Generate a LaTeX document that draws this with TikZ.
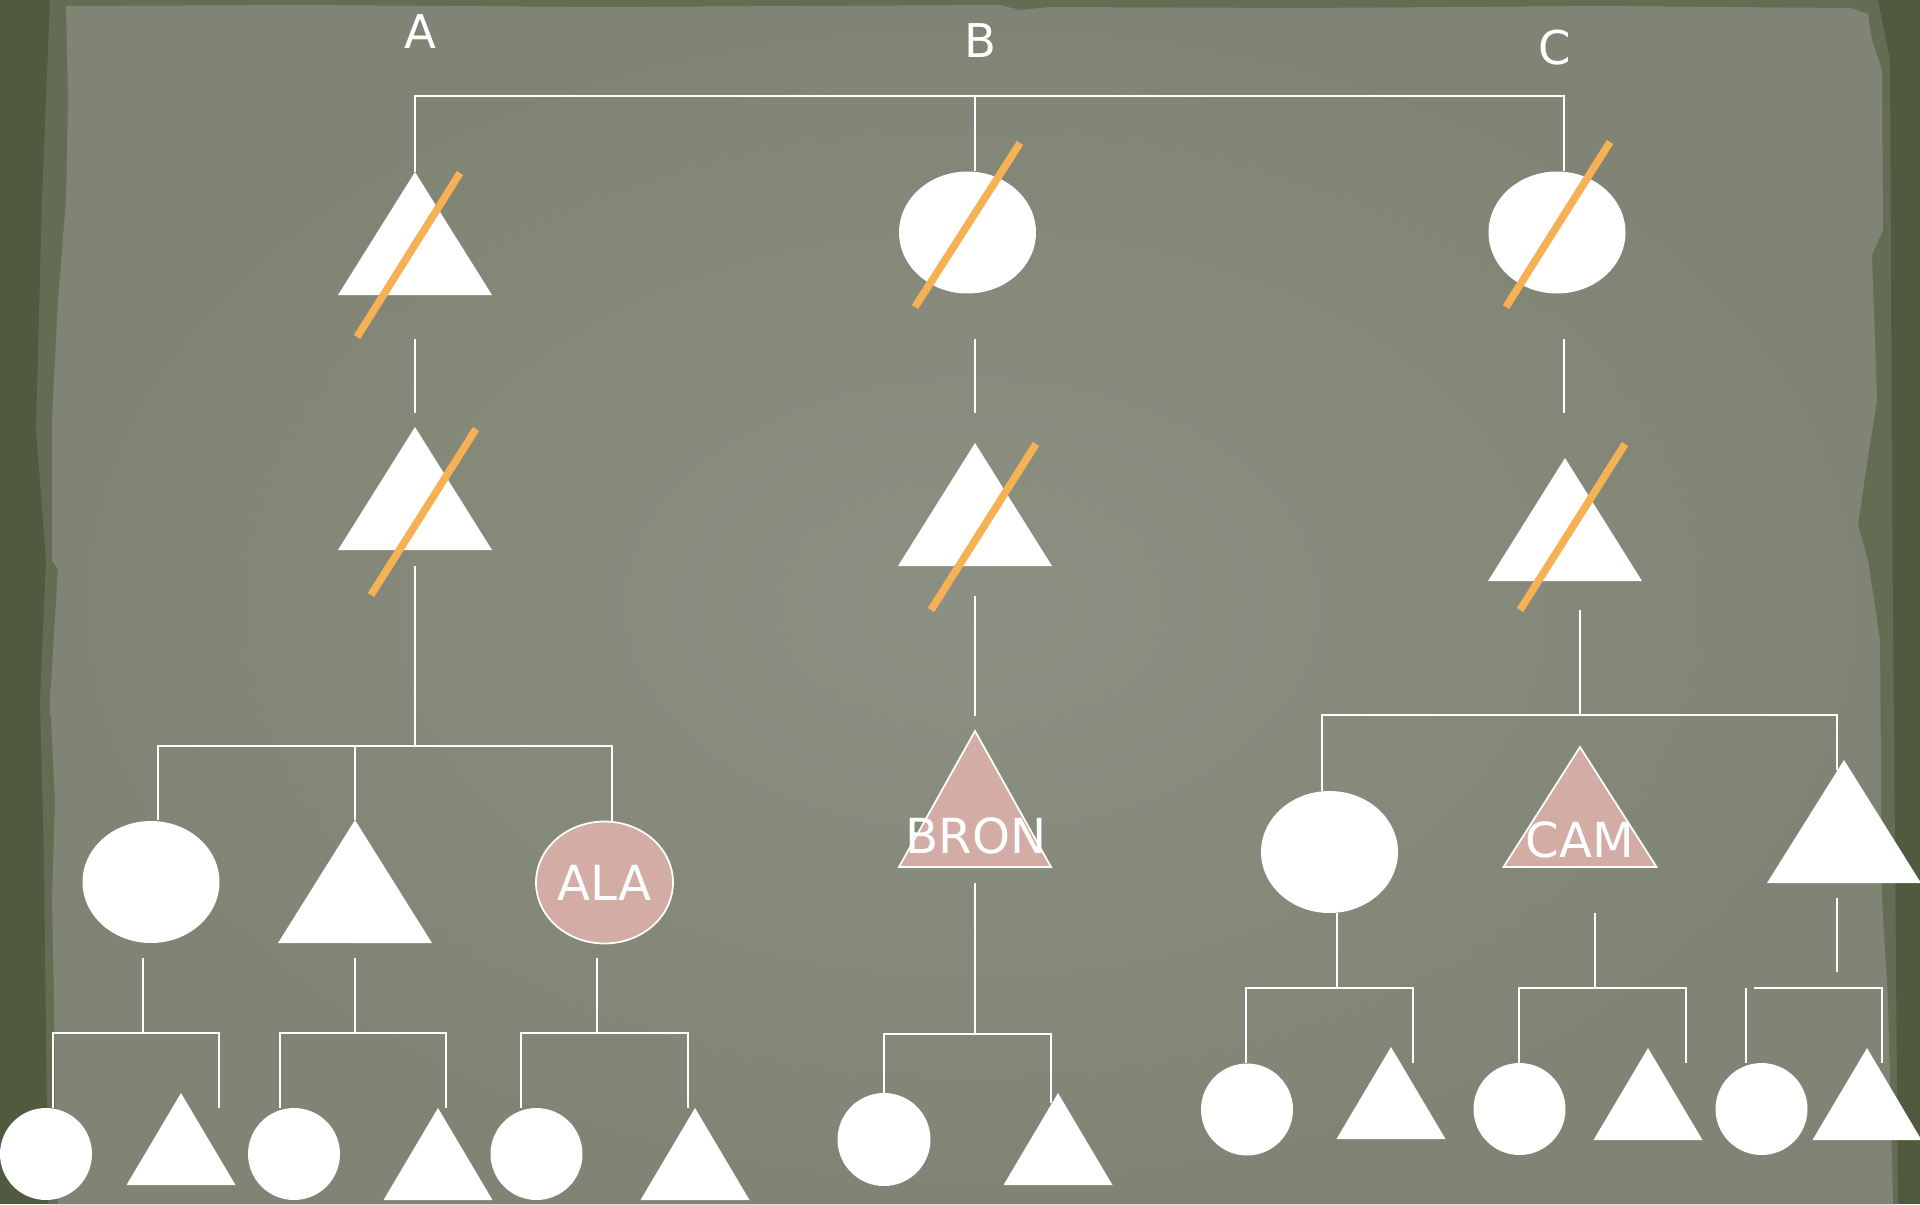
\documentclass[tikz,border=0pt]{standalone}
\usepackage{fontspec}
\setmainfont{DejaVu Sans}
\usepackage{tikz}
\usetikzlibrary{shapes.geometric}

\definecolor{paperdark}{HTML}{505A3E}
\definecolor{paperband}{HTML}{656C54}
\definecolor{paper}{HTML}{7F8474}
\definecolor{paperlight}{HTML}{8B9082}
\definecolor{slashc}{HTML}{F6B155}
\definecolor{pinkfill}{HTML}{D2ACA5}

\tikzset{
  link/.style={draw=white, line width=1.1pt},
  cross/.style={draw=slashc, line width=4.3pt},
  bigell/.style={ellipse, fill=white, minimum width=2.74cm, minimum height=2.44cm, inner sep=0pt},
  dot/.style={circle, fill=white, minimum size=1.84cm, inner sep=0pt},
  lbl/.style={text=white, font=\fontsize{26.5}{30}\selectfont, inner sep=0pt},
  intext/.style={lbl, font=\fontsize{27.5}{31}\selectfont},
  marked/.style={fill=pinkfill, draw=white, line width=1pt},
}

\begin{document}
\begin{tikzpicture}[x=0.02cm, y=-0.02cm]
        \useasboundingbox (0,0) rectangle (1920,1204);
        \def\tribig#1{\fill[white] (#1) -- ++(-77,123) -- ++(154,0) -- cycle;}
        \def\trismall#1{\fill[white] (#1) -- ++(-54.5,92) -- ++(109,0) -- cycle;}
        \def\bracket#1#2#3#4{\draw[link] (#1) -- (#2) (#3) -- (#3 |- #2) -- (#4 |- #2) -- (#4);}

        \fill[paperdark] (0,0) rectangle (1920,1204);
        \fill[paperband] (50,0) -- (1878,0) -- (1890,60) -- (1892,500) -- (1898,1204) -- (48,1204)
            -- (44,860) -- (40,700) -- (46,560) -- (36,430) -- (42,200) -- cycle;
        \shade[inner color=paperlight, outer color=paper] (66,6) -- (300,5) -- (600,7) -- (1000,5) -- (1020,10)
            -- (1050,7) -- (1300,8) -- (1600,6) -- (1850,8) -- (1868,14) -- (1872,40) -- (1882,70)
            -- (1883,230) -- (1872,255) -- (1877,400) -- (1866,470) -- (1858,525) -- (1868,560)
            -- (1880,640) -- (1882,900) -- (1888,1000) -- (1893,1204) -- (58,1204) -- (55,1100)
            -- (54,1000) -- (52,900) -- (55,800) -- (50,700) -- (58,570) -- (52,560) -- (52,420)
            -- (58,300) -- (66,200) -- (68,100) -- cycle;

        \node[lbl, anchor=base] (labA) at (420,48) {A};
        \node[lbl, anchor=base] (labB) at (980,57) {B};
        \node[lbl, anchor=base] (labC) at (1555,64) {C};

        \coordinate (top) at (975,96);
        \coordinate (a1) at (415,172);
        \coordinate (b1t) at (975,171);
        \coordinate (c1t) at (1564,171);
        \draw[link] (a1) -- (a1 |- top) -- (c1t |- top) -- (c1t) (b1t |- top) -- (b1t);

        \tribig{a1}
        \node[bigell] (b1) at (967.5,232.5) {};
        \node[bigell] (c1) at (1557,232.5) {};

        \coordinate (a12) at (415,339);
        \coordinate (a21) at (415,413);
        \coordinate (b12) at (975,339);
        \coordinate (b21) at (975,413);
        \coordinate (c12) at (1564,339);
        \coordinate (c21) at (1564,413);
        \draw[link] (a12) -- (a21) (b12) -- (b21) (c12) -- (c21);

        \coordinate (a2) at (415,427);
        \coordinate (b2) at (975,443);
        \coordinate (c2) at (1565,458);
        \tribig{a2}
        \tribig{b2}
        \tribig{c2}

        \draw[cross] (357,337) -- (460,173);
        \draw[cross] (915,307) -- (1020,143);
        \draw[cross] (1506,307) -- (1610,142);
        \draw[cross] (371,595) -- (476,429);
        \draw[cross] (931,610) -- (1036,444);
        \draw[cross] (1520,610) -- (1625,444);

        \coordinate (a2s) at (415,566);
        \coordinate (a2j) at (415,746);
        \coordinate (a3l) at (158,820);
        \coordinate (a3r) at (612,822);
        \coordinate (a32) at (355,820);
        \bracket{a2s}{a2j}{a3l}{a3r}
        \draw[link] (a32 |- a2j) -- (a32);

        \node[bigell] (a31) at (151,882) {};
        \tribig{a32}
        \node[bigell, marked, intext] (a33) at (604.5,882.5) {ALA};

        \coordinate (a31s) at (143,958);
        \coordinate (a31j) at (143,1033);
        \coordinate (a41l) at (53,1108);
        \coordinate (a41r) at (219,1108);
        \coordinate (a32s) at (355,958);
        \coordinate (a32j) at (355,1033);
        \coordinate (a42l) at (280,1108);
        \coordinate (a42r) at (446,1108);
        \coordinate (a33s) at (597,958);
        \coordinate (a33j) at (597,1033);
        \coordinate (a43l) at (521,1108);
        \coordinate (a43r) at (688,1108);
        \bracket{a31s}{a31j}{a41l}{a41r}
        \bracket{a32s}{a32j}{a42l}{a42r}
        \bracket{a33s}{a33j}{a43l}{a43r}

        \node[dot] (a411) at (46,1154) {};
        \coordinate (a412) at (181,1093);
        \trismall{a412}
        \node[dot] (a421) at (294,1154) {};
        \coordinate (a422) at (438,1108);
        \trismall{a422}
        \node[dot] (a431) at (536.5,1154) {};
        \coordinate (a432) at (695,1108);
        \trismall{a432}

        \coordinate (b2s) at (975,596);
        \coordinate (b2e) at (975,716);
        \draw[link] (b2s) -- (b2e);
        \coordinate (b3) at (975,731);
        \filldraw[marked] (b3) -- ++(-76,136) -- ++(152,0) -- cycle;
        \node[intext, anchor=base] (b3l) at (976,853) {BRON};

        \coordinate (b3s) at (975,883);
        \coordinate (b3j) at (975,1034);
        \coordinate (b4l) at (884,1093);
        \coordinate (b4r) at (1051,1103);
        \bracket{b3s}{b3j}{b4l}{b4r}
        \node[dot, minimum size=1.86cm] (b41) at (884,1139.5) {};
        \coordinate (b42) at (1058,1093);
        \trismall{b42}

        \coordinate (c2s) at (1580,610);
        \coordinate (c2j) at (1580,715);
        \coordinate (c3l) at (1322,791);
        \coordinate (c3r) at (1837,770);
        \bracket{c2s}{c2j}{c3l}{c3r}

        \node[bigell] (c31) at (1329.5,852) {};
        \coordinate (c32) at (1580,747);
        \filldraw[marked] (c32) -- ++(-76.5,120) -- ++(153,0) -- cycle;
        \node[intext, anchor=base] (c32l) at (1580,857) {CAM};
        \coordinate (c33) at (1844,760);
        \tribig{c33}

        \coordinate (c31s) at (1337,913);
        \coordinate (c31j) at (1337,988);
        \coordinate (c41l) at (1246,1063);
        \coordinate (c41r) at (1413,1063);
        \coordinate (c32s) at (1595,913);
        \coordinate (c32j) at (1595,988);
        \coordinate (c42l) at (1519,1063);
        \coordinate (c42r) at (1686,1063);
        \bracket{c31s}{c31j}{c41l}{c41r}
        \bracket{c32s}{c32j}{c42l}{c42r}
        \coordinate (c33s) at (1837,898);
        \coordinate (c33e) at (1837,972);
        \coordinate (c43a) at (1746,988);
        \coordinate (c43l) at (1746,1063);
        \coordinate (c43b) at (1754,988);
        \coordinate (c43r) at (1882,1063);
        \draw[link] (c33s) -- (c33e) (c43a) -- (c43l) (c43b) -- (c43r |- c43b) -- (c43r);

        \node[dot] (c411) at (1247,1109.5) {};
        \coordinate (c412) at (1391,1047);
        \trismall{c412}
        \node[dot] (c421) at (1519.5,1109) {};
        \coordinate (c422) at (1648,1048);
        \trismall{c422}
        \node[dot] (c431) at (1761.5,1109) {};
        \coordinate (c432) at (1867,1048);
        \trismall{c432}
    \end{tikzpicture}
\end{document}
